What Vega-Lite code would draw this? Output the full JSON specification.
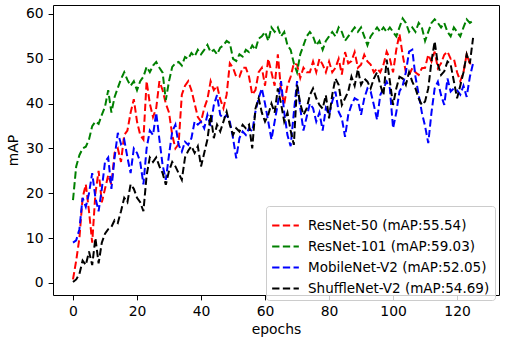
{
  "$schema": "https://vega.github.io/schema/vega-lite/v6.json",
  "width": 446,
  "height": 290,
  "autosize": {"type": "none"},
  "padding": {"left": 53, "top": 5, "right": 13, "bottom": 46},
  "background": "white",
  "config": {
    "font": "DejaVu Sans",
    "view": {"stroke": "black", "strokeWidth": 1},
    "axis": {
      "domain": false,
      "grid": false,
      "tickColor": "black",
      "tickSize": 4.9,
      "tickWidth": 1,
      "labelFontSize": 13.9,
      "labelColor": "black",
      "labelPadding": 4.9,
      "titleFontSize": 13.9,
      "titleFontWeight": "normal",
      "titleColor": "black"
    }
  },
  "data": {
    "values": [
      {"e": 0, "r50": 0.8, "r101": 18.5, "mb": 9, "sh": 0.2},
      {"e": 1, "r50": 5, "r101": 26, "mb": 9.5, "sh": 0.8},
      {"e": 2, "r50": 10, "r101": 28.5, "mb": 12, "sh": 2},
      {"e": 3, "r50": 19, "r101": 30, "mb": 19, "sh": 5},
      {"e": 4, "r50": 22, "r101": 30.4, "mb": 17, "sh": 4},
      {"e": 5, "r50": 16, "r101": 32, "mb": 20, "sh": 7},
      {"e": 6, "r50": 9, "r101": 35, "mb": 24.5, "sh": 4},
      {"e": 7, "r50": 20, "r101": 36, "mb": 19, "sh": 10},
      {"e": 8, "r50": 25, "r101": 35.5, "mb": 16, "sh": 4.4},
      {"e": 9, "r50": 18, "r101": 37.5, "mb": 21, "sh": 9},
      {"e": 10, "r50": 21, "r101": 39.3, "mb": 27, "sh": 11},
      {"e": 11, "r50": 24, "r101": 43, "mb": 28, "sh": 12},
      {"e": 12, "r50": 22, "r101": 38, "mb": 21, "sh": 12.5},
      {"e": 13, "r50": 29, "r101": 41.5, "mb": 28, "sh": 14},
      {"e": 14, "r50": 30, "r101": 43.5, "mb": 33.5, "sh": 13.4},
      {"e": 15, "r50": 27, "r101": 45.5, "mb": 31, "sh": 16},
      {"e": 16, "r50": 33, "r101": 47, "mb": 32, "sh": 19},
      {"e": 17, "r50": 34, "r101": 45.3, "mb": 28, "sh": 18},
      {"e": 18, "r50": 38, "r101": 44, "mb": 24.5, "sh": 22},
      {"e": 19, "r50": 41, "r101": 45, "mb": 30, "sh": 21},
      {"e": 20, "r50": 36, "r101": 43, "mb": 29, "sh": 19},
      {"e": 21, "r50": 33, "r101": 45, "mb": 27, "sh": 18},
      {"e": 22, "r50": 32, "r101": 46, "mb": 22, "sh": 16},
      {"e": 23, "r50": 45, "r101": 48.2, "mb": 30, "sh": 24},
      {"e": 24, "r50": 40, "r101": 47, "mb": 34, "sh": 28},
      {"e": 25, "r50": 37, "r101": 48.5, "mb": 33, "sh": 27},
      {"e": 26, "r50": 39, "r101": 49.3, "mb": 38, "sh": 28},
      {"e": 27, "r50": 45, "r101": 48, "mb": 32, "sh": 26},
      {"e": 28, "r50": 43, "r101": 46.9, "mb": 26.3, "sh": 24.5},
      {"e": 29, "r50": 40, "r101": 40.8, "mb": 23, "sh": 21.9},
      {"e": 30, "r50": 38, "r101": 45, "mb": 28.6, "sh": 25},
      {"e": 31, "r50": 33, "r101": 48.2, "mb": 33.8, "sh": 27},
      {"e": 32, "r50": 30, "r101": 49, "mb": 35.3, "sh": 26},
      {"e": 33, "r50": 31, "r101": 49.3, "mb": 30.8, "sh": 24.5},
      {"e": 34, "r50": 42, "r101": 48.5, "mb": 29.3, "sh": 23},
      {"e": 35, "r50": 44, "r101": 50.4, "mb": 31.5, "sh": 28},
      {"e": 36, "r50": 45, "r101": 50, "mb": 30.8, "sh": 29.5},
      {"e": 37, "r50": 43, "r101": 51.3, "mb": 32.3, "sh": 30.5},
      {"e": 38, "r50": 40, "r101": 50.5, "mb": 36, "sh": 29},
      {"e": 39, "r50": 37, "r101": 52, "mb": 35.3, "sh": 30.5},
      {"e": 40, "r50": 36, "r101": 51, "mb": 36, "sh": 26},
      {"e": 41, "r50": 39, "r101": 52, "mb": 34.5, "sh": 29},
      {"e": 42, "r50": 41, "r101": 53.1, "mb": 37.5, "sh": 32},
      {"e": 43, "r50": 45, "r101": 51.5, "mb": 35, "sh": 37.5},
      {"e": 44, "r50": 43, "r101": 52, "mb": 39.7, "sh": 32.3},
      {"e": 45, "r50": 44, "r101": 51, "mb": 41.9, "sh": 35.3},
      {"e": 46, "r50": 41, "r101": 52.5, "mb": 37.5, "sh": 33.8},
      {"e": 47, "r50": 39, "r101": 53, "mb": 36.7, "sh": 36},
      {"e": 48, "r50": 42, "r101": 54, "mb": 37.5, "sh": 38.2},
      {"e": 49, "r50": 49, "r101": 53.5, "mb": 36, "sh": 35.3},
      {"e": 50, "r50": 48, "r101": 50, "mb": 32.3, "sh": 33},
      {"e": 51, "r50": 46, "r101": 49.5, "mb": 27.8, "sh": 34.5},
      {"e": 52, "r50": 46, "r101": 51, "mb": 32.3, "sh": 33.8},
      {"e": 53, "r50": 48, "r101": 50.5, "mb": 33.8, "sh": 35.3},
      {"e": 54, "r50": 48, "r101": 52, "mb": 33, "sh": 34.5},
      {"e": 55, "r50": 46, "r101": 51.5, "mb": 34.5, "sh": 35.3},
      {"e": 56, "r50": 42, "r101": 53, "mb": 33.8, "sh": 30},
      {"e": 57, "r50": 43, "r101": 52, "mb": 38.2, "sh": 38.9},
      {"e": 58, "r50": 47, "r101": 54.5, "mb": 41.2, "sh": 41.2},
      {"e": 59, "r50": 48, "r101": 55, "mb": 43.4, "sh": 38},
      {"e": 60, "r50": 44, "r101": 56, "mb": 40, "sh": 36},
      {"e": 61, "r50": 50, "r101": 54, "mb": 36, "sh": 37.5},
      {"e": 62, "r50": 47, "r101": 57, "mb": 32, "sh": 40},
      {"e": 63, "r50": 44, "r101": 56, "mb": 36, "sh": 38},
      {"e": 64, "r50": 51, "r101": 57, "mb": 40, "sh": 43.4},
      {"e": 65, "r50": 43, "r101": 55, "mb": 45, "sh": 40},
      {"e": 66, "r50": 40, "r101": 56, "mb": 38, "sh": 36},
      {"e": 67, "r50": 44, "r101": 53, "mb": 33, "sh": 38},
      {"e": 68, "r50": 46, "r101": 52, "mb": 30.5, "sh": 34},
      {"e": 69, "r50": 49, "r101": 49, "mb": 38, "sh": 30.8},
      {"e": 70, "r50": 48.7, "r101": 47, "mb": 45, "sh": 44.2},
      {"e": 71, "r50": 45.7, "r101": 51, "mb": 39, "sh": 40},
      {"e": 72, "r50": 48, "r101": 53, "mb": 34, "sh": 37.5},
      {"e": 73, "r50": 47, "r101": 55, "mb": 37, "sh": 38.9},
      {"e": 74, "r50": 47, "r101": 56, "mb": 40, "sh": 41.9},
      {"e": 75, "r50": 49.4, "r101": 55, "mb": 39, "sh": 43.4},
      {"e": 76, "r50": 47, "r101": 53, "mb": 36, "sh": 41.2},
      {"e": 77, "r50": 50, "r101": 54, "mb": 38, "sh": 39.7},
      {"e": 78, "r50": 48.7, "r101": 52, "mb": 34, "sh": 38.9},
      {"e": 79, "r50": 47, "r101": 54, "mb": 39, "sh": 41.9},
      {"e": 80, "r50": 49.4, "r101": 55, "mb": 37.5, "sh": 36.7},
      {"e": 81, "r50": 47, "r101": 56, "mb": 40.5, "sh": 42},
      {"e": 82, "r50": 48, "r101": 55, "mb": 42.7, "sh": 45.6},
      {"e": 83, "r50": 50, "r101": 57, "mb": 38.2, "sh": 44.2},
      {"e": 84, "r50": 46.5, "r101": 56, "mb": 36.7, "sh": 39.7},
      {"e": 85, "r50": 51.5, "r101": 54, "mb": 32.6, "sh": 41.2},
      {"e": 86, "r50": 49, "r101": 55, "mb": 37.5, "sh": 42.7},
      {"e": 87, "r50": 49.5, "r101": 56, "mb": 39.7, "sh": 46},
      {"e": 88, "r50": 51.5, "r101": 57, "mb": 41.2, "sh": 44},
      {"e": 89, "r50": 48, "r101": 56, "mb": 40.8, "sh": 47.7},
      {"e": 90, "r50": 48.7, "r101": 57, "mb": 37.5, "sh": 44.2},
      {"e": 91, "r50": 50.9, "r101": 55, "mb": 41.2, "sh": 45.6},
      {"e": 92, "r50": 49.4, "r101": 53, "mb": 43.4, "sh": 44.9},
      {"e": 93, "r50": 48.7, "r101": 55, "mb": 42.7, "sh": 43.4},
      {"e": 94, "r50": 47, "r101": 56, "mb": 39.7, "sh": 45.6},
      {"e": 95, "r50": 47.9, "r101": 57, "mb": 36.4, "sh": 47},
      {"e": 96, "r50": 47, "r101": 56, "mb": 41.9, "sh": 44.2},
      {"e": 97, "r50": 48.7, "r101": 57, "mb": 43.4, "sh": 41.9},
      {"e": 98, "r50": 51.6, "r101": 56, "mb": 44.9, "sh": 49.8},
      {"e": 99, "r50": 50, "r101": 57, "mb": 43.4, "sh": 45},
      {"e": 100, "r50": 47, "r101": 56, "mb": 34.5, "sh": 39.7},
      {"e": 101, "r50": 52, "r101": 55, "mb": 38, "sh": 43.4},
      {"e": 102, "r50": 55.54, "r101": 57, "mb": 42.7, "sh": 46},
      {"e": 103, "r50": 50.9, "r101": 59.03, "mb": 44, "sh": 45.6},
      {"e": 104, "r50": 47, "r101": 58, "mb": 47, "sh": 44.2},
      {"e": 105, "r50": 46.4, "r101": 56, "mb": 51.6, "sh": 47},
      {"e": 106, "r50": 47.9, "r101": 57, "mb": 52.05, "sh": 44.9},
      {"e": 107, "r50": 47, "r101": 56, "mb": 46, "sh": 43.4},
      {"e": 108, "r50": 46.4, "r101": 58, "mb": 42, "sh": 41.2},
      {"e": 109, "r50": 47.9, "r101": 57, "mb": 38, "sh": 39.7},
      {"e": 110, "r50": 48, "r101": 54, "mb": 35, "sh": 40.5},
      {"e": 111, "r50": 50.9, "r101": 56, "mb": 31.2, "sh": 43.4},
      {"e": 112, "r50": 49.4, "r101": 58, "mb": 38, "sh": 49.4},
      {"e": 113, "r50": 51.6, "r101": 58.8, "mb": 43.4, "sh": 53.9},
      {"e": 114, "r50": 47.9, "r101": 58, "mb": 44.9, "sh": 48.7},
      {"e": 115, "r50": 49, "r101": 57, "mb": 41.9, "sh": 46.4},
      {"e": 116, "r50": 50.9, "r101": 58, "mb": 39.7, "sh": 47.2},
      {"e": 117, "r50": 51.6, "r101": 56, "mb": 45.6, "sh": 49.4},
      {"e": 118, "r50": 50, "r101": 55, "mb": 42.7, "sh": 48.7},
      {"e": 119, "r50": 50, "r101": 57, "mb": 43.4, "sh": 45},
      {"e": 120, "r50": 47, "r101": 56, "mb": 43, "sh": 41.2},
      {"e": 121, "r50": 45, "r101": 55, "mb": 42, "sh": 44},
      {"e": 122, "r50": 47, "r101": 57, "mb": 44, "sh": 47},
      {"e": 123, "r50": 51, "r101": 58.8, "mb": 41.5, "sh": 51},
      {"e": 124, "r50": 49, "r101": 58, "mb": 46, "sh": 49},
      {"e": 125, "r50": 48.7, "r101": 58.5, "mb": 49, "sh": 54.69}
    ]
  },
  "transform": [{"fold": ["r50", "r101", "mb", "sh"], "as": ["model", "mAP"]}],
  "mark": {"type": "line", "strokeWidth": 2, "strokeDash": [7.3, 3.4], "clip": true},
  "encoding": {
    "x": {
      "field": "e",
      "type": "quantitative",
      "scale": {"domain": [-6.25, 133.1], "nice": false, "zero": false},
      "axis": {"values": [0, 20, 40, 60, 80, 100, 120], "title": "epochs", "titlePadding": 4}
    },
    "y": {
      "field": "mAP",
      "type": "quantitative",
      "scale": {"domain": [-2.68, 62], "nice": false, "zero": false},
      "axis": {"values": [0, 10, 20, 30, 40, 50, 60], "title": "mAP", "titlePadding": 5}
    },
    "color": {
      "field": "model",
      "type": "nominal",
      "scale": {"domain": ["r50", "r101", "mb", "sh"], "range": ["#ff0000", "#008000", "#0000ff", "#000000"]},
      "legend": {
        "title": null,
        "orient": "none",
        "legendX": 213,
        "legendY": 201,
        "symbolType": "stroke",
        "symbolSize": 713,
        "symbolStrokeWidth": 2,
        "symbolDash": [7.3, 3.4],
        "labelFontSize": 13.5,
        "labelColor": "black",
        "labelLimit": 400,
        "labelOffset": 8,
        "padding": 5,
        "rowPadding": -7,
        "fillColor": "rgba(255,255,255,0.8)",
        "strokeColor": "#cccccc",
        "cornerRadius": 3,
        "labelExpr": "datum.value == 'r50' ? 'ResNet-50 (mAP:55.54)' : datum.value == 'r101' ? 'ResNet-101 (mAP:59.03)' : datum.value == 'mb' ? 'MobileNet-V2 (mAP:52.05)' : 'ShuffleNet-V2 (mAP:54.69)'"
      }
    }
  }
}
